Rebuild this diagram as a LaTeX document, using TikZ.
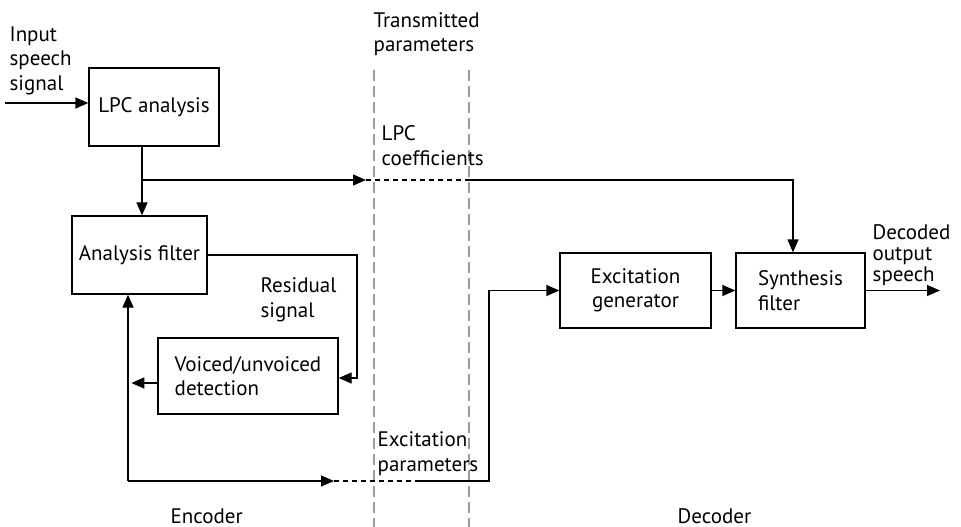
\documentclass[tikz,border=0pt]{standalone}
\usepackage{fontspec}
\setmainfont{PT Sans}
\usetikzlibrary{arrows.meta,positioning}
\definecolor{rulegray}{HTML}{9C9C9C}

\begin{document}
\begin{tikzpicture}[x=1pt,y=-1pt,>={Triangle[length=13pt,width=11pt]},
 line width=1.3pt,font=\fontsize{21}{24.5}\selectfont,
 box/.style={draw,minimum width=#1,minimum height=77pt,align=left,inner sep=0pt},
 lbl/.style={anchor=base west,align=left,inner sep=0pt},
 sepline/.style={draw=rulegray,line width=2pt,dash pattern=on 11pt off 5pt},
 link/.style={dash pattern=on 5pt off 4pt},every edge/.style={draw,->}]
\useasboundingbox (0,0) rectangle (961,527);
% transmission channel
\draw[sepline] (374,70) -- (374,527);
\draw[sepline] (469,70) -- (469,527);
% blocks
\node[box=130pt,minimum height=78pt] (lpc) at (154,107) {LPC analysis};
\node[box=135pt,minimum height=78pt] (af) at (139.5,255) {Analysis filter};
\node[box=180pt,minimum height=76pt] (vuv) at (248,376) {Voiced/unvoiced\\detection};
\node[box=151pt,minimum height=75pt,align=center] (exg) at (635.5,290.5) {Excitation\\generator};
\node[box=129pt,minimum height=75pt] (syn) at (800.5,290.5) {Synthesis\\filter};
% labels (anchored on the last line)
\node[lbl] (insig) at (9,90) {Input\\speech\\signal};
\node[lbl] (trans) at (373,52) {Transmitted\\parameters};
\node[lbl] (lpcco) at (381,165) {LPC\\coefficients};
\node[lbl] (resid) at (260,317) {Residual\\signal};
\node[lbl] (excp) at (377,471) {Excitation\\parameters};
\node[lbl,font=\fontsize{21}{21}\selectfont] (outsp) at (872,281) {Decoded\\output\\speech};
\node[lbl] (enc) at (170,523) {Encoder};
\node[lbl] (dec) at (677,523) {Decoder};
% junctions
\coordinate (in) at (5,103);
\coordinate (tap) at (142,180);
\coordinate (lpcA) at (366,180);
\coordinate (lpcB) at (469,180);
\coordinate (turn) at (793,180);
\coordinate (res) at (357,378);
\coordinate (fb) at (128,481);
\coordinate (exA) at (334,481);
\coordinate (exB) at (415,481);
\coordinate (exC) at (489,290.5);
\coordinate (out) at (940,290.5);
% encoder side
\draw[->] (in) -- (in -| lpc.west);
\draw (lpc.south -| tap) -- (tap);
\path (tap) edge (tap |- af.north)
      (tap) edge (lpcA);
\draw[->] (af.east) -| (res) -- (res -| vuv.east);
\draw[->] ([yshift=-7pt]vuv.west) -- ++(-26,0);
\draw[->] (fb) -- (fb |- af.south);
\draw[->] (fb) -- (exA);
% across the channel
\draw[link] (lpcA) -- (lpcB);
\draw[link] (exA) -- (exB);
% decoder side
\draw[->] (lpcB) -- (turn) -- (turn |- syn.north);
\draw[->] (exB) -| (exC) -- (exg.west);
\draw[->] (exg) -- (syn);
\draw[->] (syn.east) -- (out);
\end{tikzpicture}
\end{document}
